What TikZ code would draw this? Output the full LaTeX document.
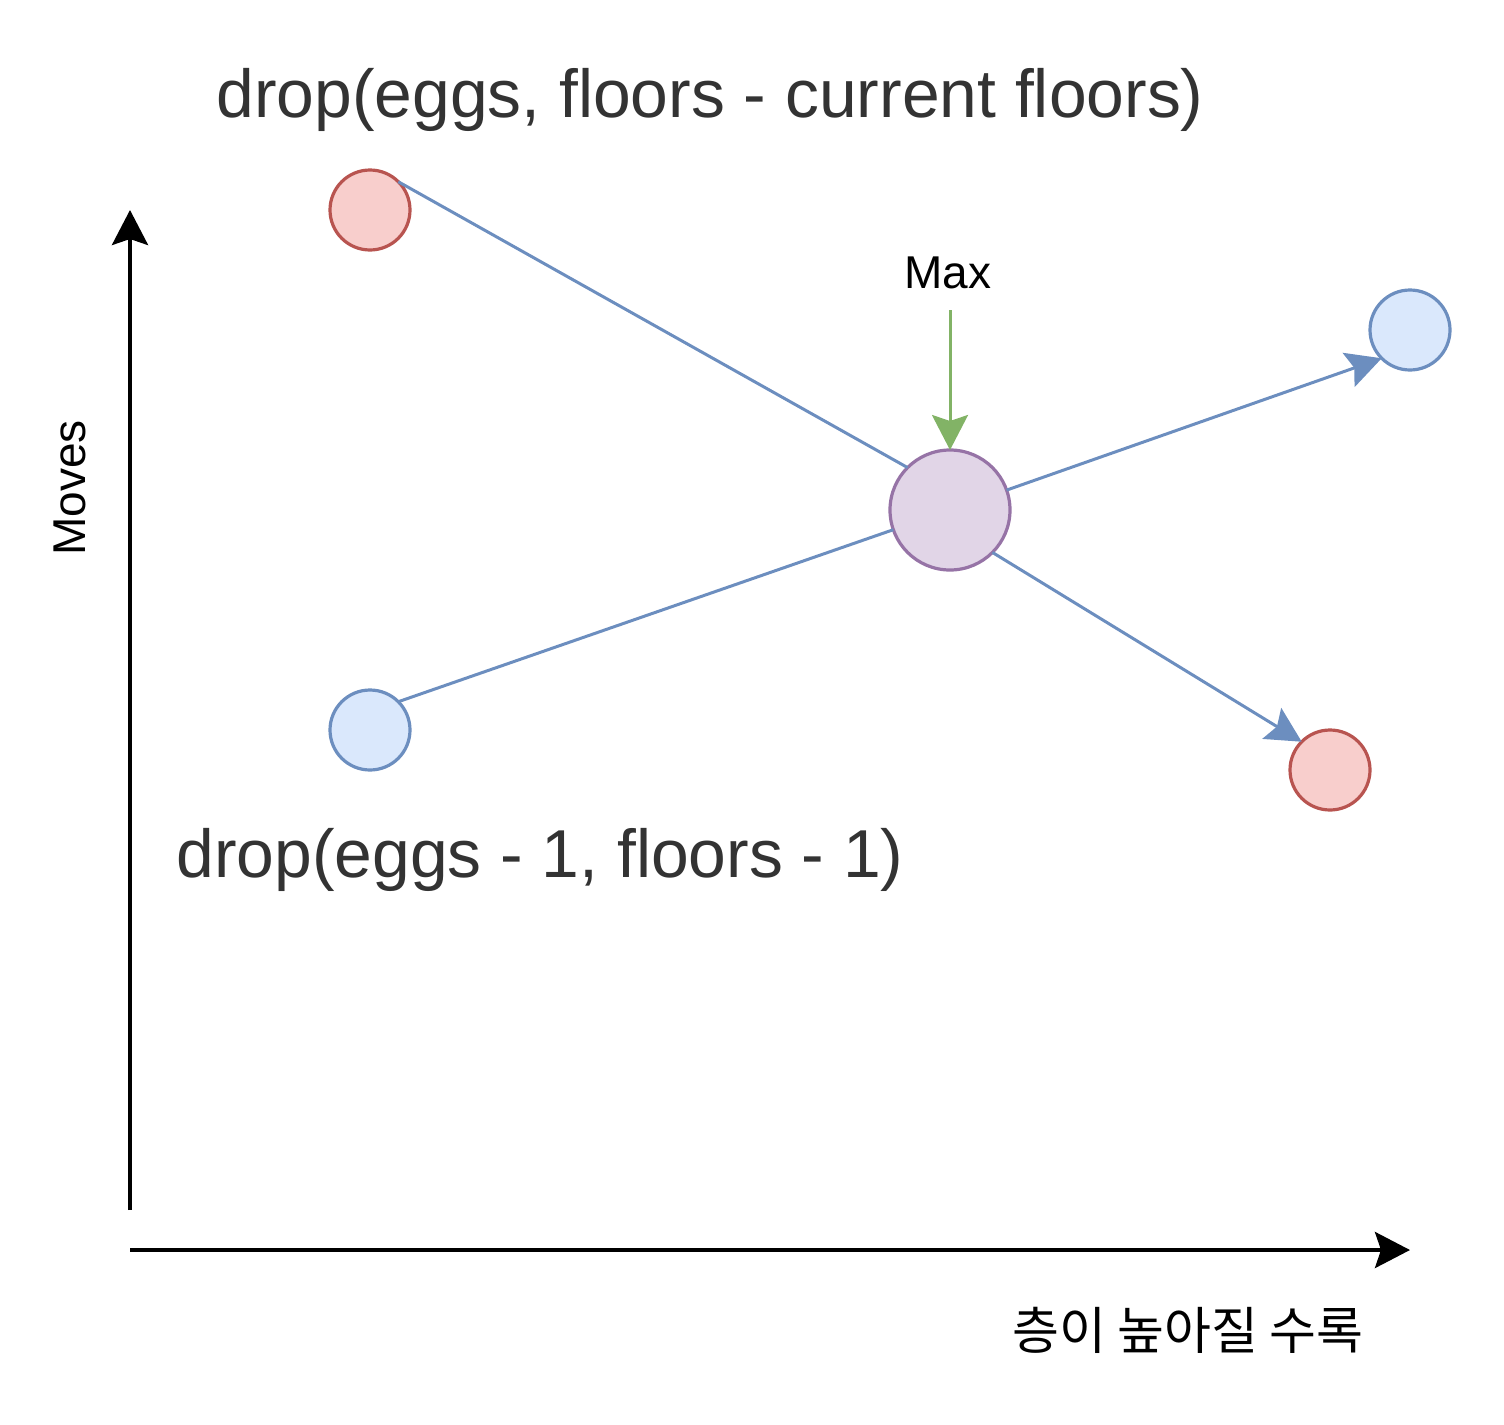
\documentclass[tikz,border=0pt]{standalone}
\usepackage{fontspec}
\setmainfont{Liberation Sans}
\newfontfamily\krfont{Noto Sans CJK KR}
\usetikzlibrary{arrows.meta}
\definecolor{redfill}{HTML}{F8CECC}
\definecolor{redline}{HTML}{B85450}
\definecolor{bluefill}{HTML}{DAE8FC}
\definecolor{blueline}{HTML}{6C8EBF}
\definecolor{purplefill}{HTML}{E1D5E7}
\definecolor{purpleline}{HTML}{9673A6}
\definecolor{greenline}{HTML}{82B366}
\definecolor{darktext}{HTML}{333333}
\begin{document}
\begin{tikzpicture}[x=0.5pt, y=-0.5pt, line join=round, >={Stealth[length=17.5pt,width=18pt,inset=3pt]},
	egg/.style={circle, draw, line width=1.6pt, minimum size=40pt, inner sep=0pt, outer sep=0pt},
	redegg/.style={egg, draw=redline, fill=redfill},
	blueegg/.style={egg, draw=blueline, fill=bluefill},
	link/.style={draw=blueline, line width=1.5pt},
	bigtext/.style={text=darktext, font=\fontsize{33.9pt}{40pt}\selectfont},
	smalltext/.style={font=\fontsize{23pt}{28pt}\selectfont}]
	\useasboundingbox (0,0) rectangle (1504,1424);
	% axes
	\coordinate (Y0) at (130,1210);
	\coordinate (Y1) at (130,210);
	\coordinate (X0) at (130,1250);
	\coordinate (X1) at (1410,1250);
	\draw[->, line width=2pt] (Y0) -- (Y1);
	\draw[->, line width=2pt] (X0) -- (X1);
	\node[smalltext, rotate=90, anchor=base] (moves) at (85,488) {Moves};
	\node[smalltext, font=\krfont\fontsize{25.5pt}{30pt}\selectfont] (floors) at (1188,1330) {층이 높아질 수록};
	% eggs
	\node[redegg] (r1) at (370,210) {};
	\node[blueegg] (b1) at (370,730) {};
	\node[egg, draw=purpleline, fill=purplefill, minimum size=60pt] (m) at (950,510) {};
	\node[blueegg] (b2) at (1410,330) {};
	\node[redegg] (r2) at (1330,770) {};
	\draw[link] (r1.north east) -- (m.north west);
	\draw[link] (b1.north east) -- (m);
	\draw[link, ->, fill=blueline] (m) -- (b2.south west);
	\draw[link, ->, fill=blueline] (m.south east) -- (r2.north west);
	% labels
	\node[bigtext, anchor=base] (top) at (710,117) {drop(eggs, floors - current floors)};
	\node[bigtext, anchor=base] (bottom) at (540,877) {drop(eggs - 1, floors - 1)};
	\node[smalltext, anchor=base] (max) at (948,288) {Max};
	\coordinate (maxstart) at (950,310);
	\draw[->, draw=greenline, fill=greenline, line width=1.5pt] (maxstart) -- (m.north);
\end{tikzpicture}
\end{document}
